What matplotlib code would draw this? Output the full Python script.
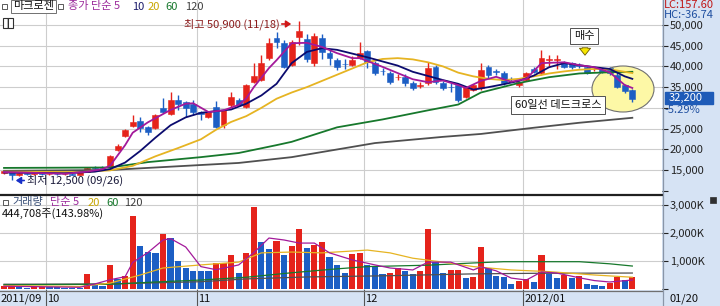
import matplotlib
matplotlib.use('Agg')
import matplotlib.pyplot as plt
import matplotlib.patches as mpatches
import matplotlib.transforms as mtrans
from matplotlib.lines import Line2D

plt.rcParams['font.family'] = ['Noto Sans CJK KR', 'DejaVu Sans']
plt.rcParams['font.size'] = 8

# daily candles, 2011/09/23 .. 2012/01/20
opens = [14300, 14600, 13700, 14300, 14000, 14200, 14000, 14100, 14000, 14100,
         13900, 14500, 15600, 15500, 15700, 19900, 23200, 25600, 26800, 25400,
         25140, 29960, 28500, 31900, 31400, 30900, 29000, 27800, 30200, 25860,
         30690, 31900, 30200, 36240, 36700, 42000, 46860, 45650, 40340, 47100,
         46500, 40830, 46860, 43240, 41550, 40700, 40340, 42030, 43720, 40830,
         38900, 38410, 37400, 37450, 36000, 35300, 36000, 39860, 36000, 35100,
         35500, 32620, 34300, 34800, 39860, 38900, 38410, 37000, 35500, 36700,
         39380, 38410, 41600, 41600, 41070, 40830, 40200, 39860, 39300, 39380,
         39620, 37930, 35500, 34300]
highs = [15000, 14800, 14500, 14600, 14400, 14400, 14300, 14300, 14200, 14200,
         14600, 15800, 16000, 15900, 18600, 21300, 25000, 28300, 27800, 25600,
         28500, 32400, 33800, 33100, 31600, 31900, 29300, 29000, 31650, 29700,
         33830, 32300, 35700, 40800, 42760, 46860, 48300, 46400, 46400, 50900,
         47800, 48000, 47800, 43970, 42000, 41800, 42500, 45900, 44000, 41300,
         39620, 38900, 38200, 38200, 36500, 36200, 41070, 40340, 36500, 36000,
         35800, 35300, 35800, 40830, 40340, 39380, 39000, 37450, 36500, 38650,
         39860, 44000, 42750, 42750, 41300, 41070, 40830, 40100, 39860, 39620,
         39860, 38650, 35800, 34500]
lows = [14000, 12500, 13500, 13900, 13800, 13900, 13800, 13900, 13900, 13800,
        13900, 14400, 15300, 15100, 15700, 19500, 23000, 25400, 24200, 23450,
        24900, 28760, 28300, 29500, 27800, 28270, 27000, 27600, 25140, 25140,
        30200, 30500, 30000, 36000, 36500, 41550, 44450, 39500, 40000, 45200,
        41000, 40000, 41800, 40340, 39140, 39400, 40000, 41800, 39620, 38000,
        38000, 35760, 36700, 35300, 34300, 34800, 35500, 35760, 34300, 33800,
        31400, 32400, 34000, 34300, 37200, 38000, 35500, 36240, 35000, 36400,
        38400, 38000, 40100, 39400, 39600, 39400, 39600, 38200, 38900, 38400,
        38000, 34800, 33500, 31400]
closes = [14800, 13700, 14300, 14000, 14200, 14000, 14100, 14000, 14100, 13900,
          14500, 15600, 15500, 15400, 18400, 20900, 24650, 26600, 25100, 24200,
          28270, 29000, 31900, 30930, 29960, 29000, 28600, 29000, 25400, 29500,
          32620, 30690, 35500, 37700, 40800, 45650, 45900, 39860, 45900, 48550,
          41800, 47340, 43480, 42030, 39860, 40500, 41550, 43240, 41070, 38410,
          38800, 36240, 37550, 36000, 34800, 35500, 39620, 36240, 34800, 35000,
          31900, 35030, 35500, 39140, 37930, 38650, 36000, 36900, 36240, 38410,
          38650, 42030, 41800, 41800, 39860, 39860, 40100, 38410, 39450, 38650,
          38410, 35030, 34000, 32200]
# volume, thousand shares
volumes = [100, 143, 60, 50, 60, 70, 60, 55, 50, 45, 40, 535, 143, 119,
           845, 345, 464, 2607, 1536, 1321, 1298, 1964, 1833, 1000, 738, 655,
           640, 625, 940, 945, 1202, 560,
           1274, 2940, 1690, 1417, 1726, 1202, 1548, 2143, 1452,
           1571, 1667, 1131, 857, 583, 1238, 1298, 857, 821, 536, 583, 750,
           655, 536, 631, 2143, 976, 560, 667, 670, 381, 417, 1512,
           738, 464, 417, 179, 298, 345, 262, 1214, 524, 381, 500, 381, 464,
           179, 143, 119, 202, 440, 309, 445]

# moving averages (candle index, value)
ma5_idx = [0, 8, 11, 13, 14, 15, 16, 17, 19, 22, 24, 25, 27, 29, 31, 32, 33, 35, 36, 38,
           40, 42, 44, 46, 47, 50, 52, 54, 56, 58, 60, 61, 63, 65, 67, 69, 71, 74, 76, 78,
           80, 82, 83]
ma5_val = [14500, 14100, 14600, 15200, 16000, 18500, 21000, 24000, 26500, 29500,
           31000, 31100, 29000, 29400, 30700, 32300, 35000, 39600, 41500, 45600,
           45700, 44700, 43200, 42000, 42000, 39900, 38400, 36900, 36200, 36600,
           35500, 34800, 36500, 37500, 36300, 37000, 40800, 41000, 40300, 39800,
           38600, 35500, 34800]
ma10_idx = [0, 8, 12, 14, 16, 18, 20, 22, 24, 26, 28, 30, 32, 34, 36, 38, 40, 42, 44, 46,
            48, 50, 52, 54, 56, 58, 60, 62, 64, 66, 68, 70, 72, 74, 76, 78, 80, 82, 83]
ma10_val = [14400, 14200, 14600, 15200, 16800, 19600, 22800, 25800, 27700, 28800,
            29200, 29600, 31000, 33000, 35800, 40800, 43500, 44400, 44000, 43100,
            42200, 41200, 40200, 38700, 37700, 36700, 35800, 34400, 35000, 35700,
            36500, 37800, 39800, 40800, 40300, 39800, 39400, 37600, 37000]
ma20_idx = [0, 10, 14, 17, 20, 23, 26, 28, 30, 32, 34, 36, 38, 40, 42, 44, 46, 48, 50, 52,
            54, 56, 58, 60, 62, 64, 66, 68, 70, 72, 74, 76, 78, 80, 82, 83]
ma20_val = [14600, 14500, 14900, 16000, 18300, 20300, 22400, 24700, 26600, 28000,
            30000, 32200, 33700, 35000, 36500, 38000, 39500, 41000, 41800, 42000,
            41700, 41000, 40000, 38500, 37600, 37000, 36700, 37000, 37600, 38300,
            38800, 39200, 39400, 39300, 38700, 38400]
ma60_idx = [0, 14, 19, 26, 31, 36, 38, 44, 50, 56, 60, 63, 68, 72, 76, 80, 83]
ma60_val = [15500, 15600, 16900, 18100, 19100, 21000, 21800, 25300, 27200, 29400,
            30800, 33700, 36000, 37400, 38300, 38600, 38700]
ma120_idx = [0, 14, 26, 31, 38, 49, 58, 63, 70, 76, 83]
ma120_val = [14800, 15000, 16200, 16700, 18100, 21500, 23000, 23700, 25200, 26400, 27600]

vma5_idx = [0, 10, 12, 14, 16, 17, 19, 21, 22, 24, 26, 28, 30, 31, 33, 35, 37, 39, 41, 43,
            46, 49, 51, 54, 56, 59, 62, 63, 65, 67, 69, 71, 73, 76, 78, 80, 83]
vma5_val = [100, 60, 180, 330, 440, 950, 1300, 1750, 1800, 1500, 800, 690, 800, 860,
            1300, 1820, 1750, 1640, 1640, 1290, 1040, 860, 750, 680, 960, 960, 680,
            790, 650, 390, 320, 610, 570, 400, 300, 250, 320]
vma20_idx = [0, 10, 14, 18, 21, 26, 31, 34, 38, 42, 48, 51, 54, 58, 62, 67, 72, 78, 83]
vma20_val = [120, 90, 210, 500, 750, 860, 960, 1290, 1320, 1290, 1390, 1290, 1100,
             960, 800, 680, 620, 500, 420]
vma60_idx = [0, 14, 20, 26, 32, 38, 44, 48, 56, 62, 66, 76, 80, 83]
vma60_val = [150, 170, 250, 320, 420, 580, 720, 800, 850, 930, 975, 975, 900, 820]
vma120_idx = [0, 14, 26, 32, 40, 50, 62, 70, 83]
vma120_val = [170, 180, 260, 360, 430, 470, 540, 560, 570]

month_starts = [6, 26, 48, 69]
month_labels = ['10', '11', '12', '2012/01']
price_ticks = [10000, 15000, 20000, 25000, 30000, 35000, 40000, 45000, 50000]
vol_ticks = [0, 1000, 2000, 3000]

RED = '#e5231b'
BLUE = '#1c5ec4'
PANEL = '#d6e3f4'
GRID = '#cdcdcd'
C5, C10, C20, C60, C120 = '#a3199a', '#0b0b6e', '#e6b422', '#17782c', '#505050'

W, H = 720, 306


def fx(x):
    return x / W


def fy(y):
    return 1 - y / H


fig = plt.figure(figsize=(7.2, 3.06), dpi=100)
fig.patches.append(mpatches.Rectangle((fx(662), 0), 1 - fx(662), 1, transform=fig.transFigure,
                                      color=PANEL, zorder=-1))
fig.patches.append(mpatches.Rectangle((0, 0), fx(662), 16 / H, transform=fig.transFigure,
                                      color=PANEL, zorder=-1))

ax = fig.add_axes([0, fy(194), fx(662), 194 / H])
axv = fig.add_axes([0, fy(290), fx(662), 96 / H])

for a in (ax, axv):
    for s in a.spines.values():
        s.set_visible(False)
    a.set_xlim(-0.53, 86.92)
    a.set_xticks([])
    a.yaxis.tick_right()
    a.tick_params(axis='y', direction='out', length=4, width=0.8, pad=1.5,
                  labelsize=8, colors='#222222')
    for m in month_starts:
        a.axvline(m - 0.5, color=GRID, lw=0.8, zorder=0)

# price panel
ax.set_ylim(9203, 56035)
ax.set_yticks(price_ticks)
ax.set_yticklabels(['' if p in (10000, 30000) else f'{p:,}' for p in price_ticks])
for p in price_ticks[1:]:
    ax.axhline(p, color=GRID, lw=0.8, zorder=0)

ax.add_patch(mpatches.Ellipse((fx(623), fy(89)), fx(62), 46 / H, transform=fig.transFigure,
                              fc='#fdf8a6', ec='#707070', lw=0.8, zorder=1))

for i in range(len(closes)):
    c = RED if closes[i] >= opens[i] else BLUE
    ax.vlines(i, lows[i], highs[i], color=c, lw=1, zorder=3)
    ax.bar(i, max(abs(closes[i] - opens[i]), 150), bottom=min(opens[i], closes[i]),
           width=0.78, color=c, edgecolor=c, lw=0.4, zorder=3)

ax.plot(ma120_idx, ma120_val, color=C120, lw=1.3, zorder=4)
ax.plot(ma60_idx, ma60_val, color=C60, lw=1.3, zorder=4)
ax.plot(ma20_idx, ma20_val, color=C20, lw=1.3, zorder=4)
ax.plot(ma10_idx, ma10_val, color=C10, lw=1.3, zorder=4)
ax.plot(ma5_idx, ma5_val, color=C5, lw=1.3, zorder=4)

# volume panel
axv.set_ylim(-36, 3393)
axv.set_yticks(vol_ticks)
axv.set_yticklabels(['' if v == 0 else f'{v:,}K' for v in vol_ticks])
for v in vol_ticks[1:]:
    axv.axhline(v, color=GRID, lw=0.8, zorder=0)
vcol = [RED if i == 0 or volumes[i] > volumes[i - 1] else BLUE for i in range(len(volumes))]
axv.bar(range(len(volumes)), volumes, width=0.82, color=vcol, zorder=3)
axv.plot(vma120_idx, vma120_val, color=C120, lw=0.9, zorder=4)
axv.plot(vma60_idx, vma60_val, color=C60, lw=0.9, zorder=4)
axv.plot(vma20_idx, vma20_val, color=C20, lw=0.9, zorder=4)
axv.plot(vma5_idx, vma5_val, color=C5, lw=0.9, zorder=4)

# separators and date bar
fig.add_artist(Line2D([0, fx(662)], [fy(194.5)] * 2, color='#202020', lw=1.6))
fig.add_artist(Line2D([0, fx(662)], [fy(290.5)] * 2, color='#707070', lw=0.9))
fig.add_artist(Line2D([fx(662.5)] * 2, [0, 1], color='#8a96a8', lw=0.9))
bt = mtrans.blended_transform_factory(axv.transData, fig.transFigure)
for m, lab in zip(month_starts, month_labels):
    axv.plot([m - 0.5, m - 0.5], [0, 16 / H], color='#555555', lw=0.8, transform=bt, clip_on=False)
    axv.text(m - 0.3, fy(298.5), lab, transform=bt, ha='left', va='center', fontsize=8, color='#111111')
fig.text(fx(1), fy(298.5), '2011/09', ha='left', va='center', fontsize=8, color='#111111')
fig.text(fx(669), fy(298.5), '01/20', ha='left', va='center', fontsize=8, color='#111111')

# header texts
for x0, y0 in ((2, 4), (58, 4), (3, 200)):
    fig.patches.append(mpatches.Rectangle((fx(x0), fy(y0 + 5)), fx(5), 5 / H, transform=fig.transFigure,
                                          fc='white', ec='#404040', lw=0.6))
fig.patches.append(mpatches.Rectangle((fx(3), fy(28)), fx(10), 10 / H, transform=fig.transFigure,
                                      fc='white', ec='#303030', lw=0.8, hatch='|||'))
fig.text(fx(13), fy(6.5), '마크로젠', ha='left', va='center', fontsize=8, color='#111111',
         bbox=dict(boxstyle='square,pad=0.15', fc='white', ec='#707070', lw=0.7))
fig.text(fx(68), fy(6.5), '종가 단순 5', ha='left', va='center', fontsize=8, color='#9b2a9b')
fig.text(fx(132), fy(6.5), '10', ha='left', va='center', fontsize=8, color='#1a1a6a')
fig.text(fx(148), fy(6.5), '20', ha='left', va='center', fontsize=8, color='#c8a600')
fig.text(fx(165), fy(6.5), '60', ha='left', va='center', fontsize=8, color='#17782c')
fig.text(fx(185), fy(6.5), '120', ha='left', va='center', fontsize=8, color='#404040')

fig.text(fx(12), fy(202.5), '거래량', ha='left', va='center', fontsize=8, color='#3a5078')
fig.text(fx(50), fy(202.5), '단순 5', ha='left', va='center', fontsize=8, color='#9b2a9b')
fig.text(fx(88), fy(202.5), '20', ha='left', va='center', fontsize=8, color='#c8a600')
fig.text(fx(106), fy(202.5), '60', ha='left', va='center', fontsize=8, color='#17782c')
fig.text(fx(124), fy(202.5), '120', ha='left', va='center', fontsize=8, color='#404040')
fig.text(fx(2), fy(213.5), '444,708주(143.98%)', ha='left', va='center', fontsize=8, color='#111111')

# right panel
fig.text(fx(664), fy(5), 'LC:157.60', ha='left', va='center', fontsize=8, color='#c01818')
fig.text(fx(664), fy(15), 'HC:-36.74', ha='left', va='center', fontsize=8, color='#1f4fa0')
fig.patches.append(mpatches.Rectangle((fx(665), fy(104)), fx(48), 12 / H, transform=fig.transFigure,
                                      color='#1e5bb8'))
fig.text(fx(669), fy(98), '32,200', ha='left', va='center', fontsize=8, color='white')
fig.text(fx(664), fy(109.5), '-5.29%', ha='left', va='center', fontsize=8, color='#1f4fa0')
fig.patches.append(mpatches.Rectangle((fx(710), fy(203)), fx(6), 6 / H, transform=fig.transFigure,
                                      fc='#303030', ec='#303030', lw=0.5))

# annotations
fig.text(fx(184), fy(24), '최고 50,900 (11/18)', ha='left', va='center', fontsize=8, color='#8b1c1c')
fig.add_artist(mpatches.FancyArrowPatch((fx(279), fy(24)), (fx(294), fy(24)), transform=fig.transFigure,
                                        arrowstyle='-|>,head_length=3,head_width=2', color='#d01818', lw=1.2))
fig.add_artist(mpatches.FancyArrowPatch((fx(27), fy(180.5)), (fx(13), fy(180.5)), transform=fig.transFigure,
                                        arrowstyle='-|>,head_length=3,head_width=2', color='#1830c8', lw=1.2))
fig.text(fx(27), fy(180.5), '최저 12,500 (09/26)', ha='left', va='center', fontsize=8, color='#1a1a3a')

fig.text(fx(584), fy(36), '매수', ha='center', va='center', fontsize=8, color='#111111',
         bbox=dict(boxstyle='square,pad=0.3', fc='white', ec='#505050', lw=0.7))
fig.add_artist(mpatches.FancyArrowPatch((fx(585), fy(45)), (fx(585), fy(58)), transform=fig.transFigure,
                                        arrowstyle='simple,head_length=5,head_width=8,tail_width=4',
                                        fc='#f7e600', ec='#6a5a00', lw=0.6))
fig.text(fx(558), fy(105), '60일선 데드크로스', ha='center', va='center', fontsize=8, color='#111111',
         bbox=dict(boxstyle='square,pad=0.35', fc='white', ec='#505050', lw=0.7))

fig.savefig('out.png', dpi=100)
